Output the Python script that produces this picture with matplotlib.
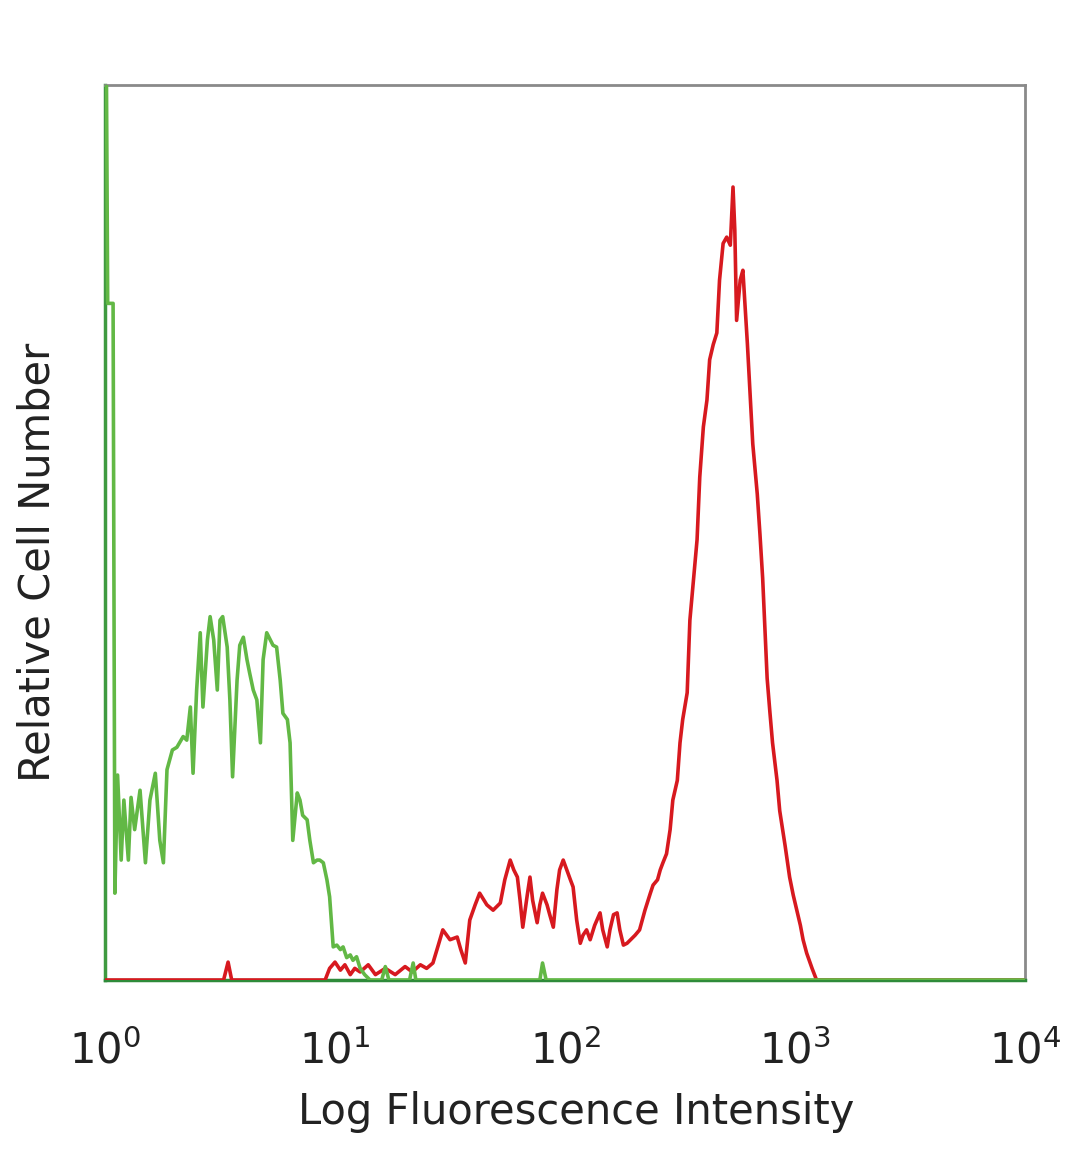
import numpy as np
import matplotlib
matplotlib.use("Agg")
import matplotlib.pyplot as plt

# Histogram traces: channel (1024 ch = 4 decades) and counts
green_ch = [0, 3, 9, 11, 14, 18, 21, 26, 29, 33, 39, 45, 50, 56, 61, 65, 69, 75, 80, 87,
            91, 95, 98, 102, 106, 109, 114, 117, 121, 125, 128, 131, 136, 139, 142, 147,
            150, 154, 158, 161, 165, 169, 173, 176, 180, 184, 187, 191, 195, 198, 203,
            206, 209, 214, 217, 220, 225, 228, 232, 236, 239, 243, 247, 250, 254, 258,
            262, 265, 269, 273, 276, 280, 284, 289, 295, 308, 312, 316, 339, 343, 346,
            484, 487, 491, 1023]
green_counts = [130, 75.6, 75.6, 9.7, 22.9, 13.4, 20.1, 13.4, 20.4, 16.8, 21.2, 13.1, 20.1,
                23.1, 15.6, 13.1, 23.5, 25.7, 26.0, 27.2, 26.8, 30.5, 23.1, 32.4, 38.8,
                30.5, 38.0, 40.6, 38.0, 32.4, 40.2, 40.6, 37.2, 31.3, 22.7, 33.5, 37.4,
                38.3, 35.8, 34.3, 32.4, 31.3, 26.5, 35.8, 38.8, 38.0, 37.4, 37.2, 33.5,
                29.8, 29.1, 26.5, 15.6, 20.9, 20.1, 18.4, 17.9, 15.6, 13.1, 13.4, 13.4,
                13.1, 11.2, 9.3, 3.7, 3.9, 3.4, 3.7, 2.5, 2.8, 2.2, 2.6, 1.3, 0.6, 0,
                0, 1.5, 0, 0, 1.9, 0, 0, 1.9, 0, 0]

red_ch = [0, 132, 137, 141, 245, 250, 256, 262, 267, 273, 278, 284, 293, 301, 312, 323,
          334, 342, 351, 358, 365, 371, 376, 384, 392, 396, 401, 406, 412, 417, 425, 432,
          440, 445, 451, 455, 459, 462, 465, 470, 473, 476, 481, 484, 487, 492, 495, 499,
          503, 506, 510, 514, 518, 521, 525, 529, 532, 536, 540, 545, 551, 554, 559, 562,
          566, 570, 573, 577, 581, 585, 590, 595, 601, 607, 610, 615, 618, 621, 625, 629,
          632, 637, 640, 643, 648, 651, 655, 659, 662, 666, 670, 673, 677, 681, 684, 688,
          692, 696, 699, 701, 703, 707, 710, 712, 715, 718, 721, 726, 729, 732, 737, 740,
          743, 748, 751, 757, 762, 766, 770, 774, 777, 781, 787, 792, 1023]
red_counts = [0, 0, 2.0, 0, 0, 1.3, 2.0, 1.1, 1.7, 0.6, 1.3, 0.9, 1.7, 0.6, 1.3, 0.6,
              1.5, 0.9, 1.7, 1.3, 1.9, 3.9, 5.6, 4.5, 4.8, 3.4, 1.9, 6.7, 8.4, 9.7, 8.4,
              7.8, 8.6, 11.2, 13.4, 12.3, 11.5, 8.9, 5.9, 9.5, 11.5, 8.9, 6.4, 8.4, 9.7,
              8.4, 7.3, 5.9, 10.1, 12.3, 13.4, 12.3, 11.2, 10.4, 6.7, 4.1, 5.0, 5.6, 4.5,
              6.1, 7.5, 5.6, 3.7, 5.6, 7.3, 7.5, 5.6, 3.9, 4.1, 4.5, 5.0, 5.6, 7.8, 9.7,
              10.6, 11.2, 12.3, 13.1, 14.1, 16.8, 20.1, 22.3, 26.5, 29.1, 32.1, 40.2,
              44.7, 49.2, 56.2, 61.8, 64.8, 69.3, 71.0, 72.3, 78.2, 82.3, 83.0, 82.1,
              88.6, 83.8, 73.7, 78.2, 79.3, 76.0, 71.1, 65.5, 59.9, 54.3, 49.8, 44.9,
              33.7, 30.0, 26.5, 22.3, 18.9, 15.0, 11.5, 9.5, 7.8, 6.1, 4.5, 3.0, 1.3,
              0, 0]

tick_values = [1, 10, 100, 1000, 10000]
tick_labels = [r"$\mathregular{10^{0}}$", r"$\mathregular{10^{1}}$", r"$\mathregular{10^{2}}$",
               r"$\mathregular{10^{3}}$", r"$\mathregular{10^{4}}$"]

plt.rcParams["font.family"] = ["DejaVu Sans"]

# Kanal -> Intensitaet (256 Kanaele pro Dekade)
green_x = 10 ** (np.array(green_ch) / 256.0)
red_x = 10 ** (np.array(red_ch) / 256.0)

fig = plt.figure(figsize=(10.8, 11.69), dpi=100)
ax = fig.add_axes([105 / 1080, 1 - 980 / 1169, 920 / 1080, 895 / 1169])

ax.plot(red_x, red_counts, color="#d7191f", lw=2.6, zorder=3)
ax.plot(green_x, green_counts, color="#62b845", lw=2.6, zorder=4)

ax.set_xscale("log")
ax.set_xlim(1, 10000)
ax.set_ylim(0, 100)

ax.set_xticks(tick_values)
ax.set_xticklabels(tick_labels, fontsize=30, color="#222222")
ax.minorticks_off()
ax.tick_params(axis="x", length=0, pad=36)
ax.set_yticks([])

for side in ["top", "right"]:
    ax.spines[side].set_color("#8a8a8a")
    ax.spines[side].set_linewidth(2)
ax.spines["bottom"].set_color("#2e8b3a")
ax.spines["bottom"].set_linewidth(2.5)
ax.spines["left"].set_color("#3f9a40")
ax.spines["left"].set_linewidth(2.5)

fig.text(576 / 1080, 1 - 1112 / 1169, "Log Fluorescence Intensity", ha="center", va="center",
         fontsize=30, color="#222222")
fig.text(38 / 1080, 1 - 562 / 1169, "Relative Cell Number", ha="center", va="center",
         rotation=90, fontsize=30, color="#222222")

fig.savefig("out.png", dpi=100, facecolor="white")
